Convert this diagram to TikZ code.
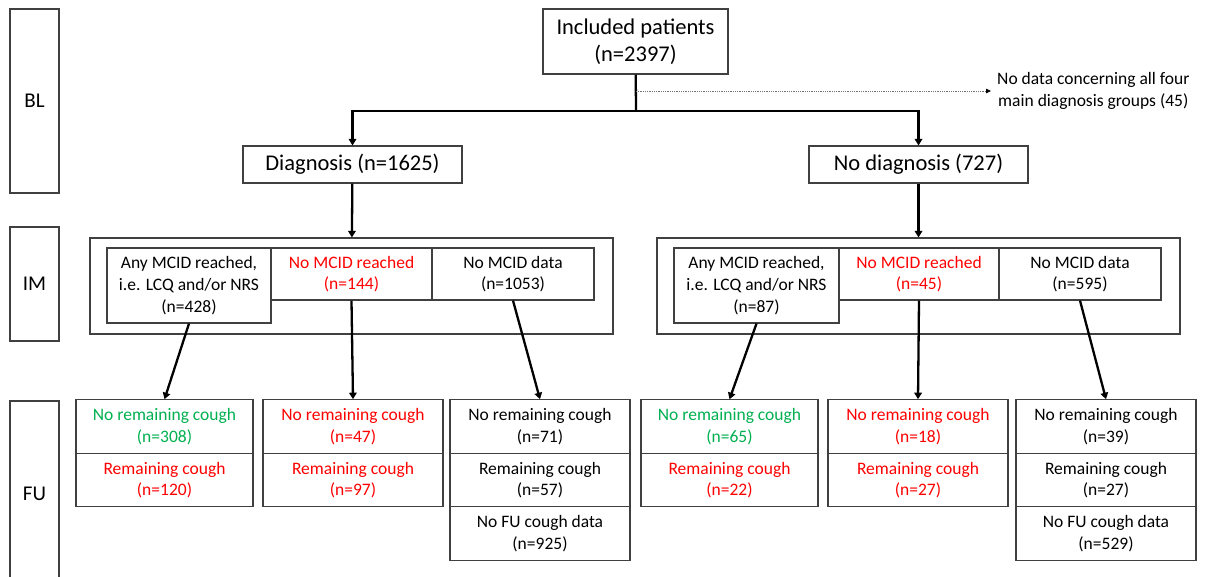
\documentclass[tikz,border=0pt]{standalone}
\usepackage{fontspec}
\setmainfont{Carlito}
\usetikzlibrary{arrows.meta}

\definecolor{groenn}{RGB}{0,176,80}
\definecolor{roed}{RGB}{255,0,0}

\tikzset{
    tekst/.style={align=center, inner sep=0pt, font=\fontsize{17.5}{21.7}\selectfont},
    boks/.style={tekst, draw=black!75, line width=1.1pt},
    storboks/.style={boks, font=\fontsize{22.5}{27}\selectfont},
    fase/.style={storboks, minimum width=49pt, font=\fontsize{21}{25}\selectfont},
    celle/.style={boks, minimum height=53.5pt},
    pil/.style={-{Triangle[length=6.5pt,width=7.5pt]}, line width=2.3pt},
    strek/.style={line width=2.3pt}
}

\begin{document}
\begin{tikzpicture}[x=1pt, y=-1pt]
    \clip (0,0) rectangle (1205,576);
    \path node[fase, minimum height=184pt] (BL) at (34.5,101) {BL}
        node[fase, minimum height=114pt] (IM) at (34.5,284) {IM}
        node[fase, minimum height=185pt] (FU) at (34.5,493.5) {FU}
        node[storboks, minimum width=185pt, minimum height=65pt] (inkl) at (635.5,41.5) {Included patients\\(n=2397)}
        node[tekst, anchor=west] (mangler) at (997,91) {No data concerning all four\\main diagnosis groups (45)}
        node[storboks, minimum width=219pt, minimum height=37pt] (diag) at (352.5,164.5) {Diagnosis (n=1625)}
        node[storboks, minimum width=219pt, minimum height=37pt] (ikkediag) at (918.5,164.5) {No diagnosis (727)}
        % IM, diagnose
        node[boks, minimum width=523pt, minimum height=96pt] (Vramme) at (351.5,286) {}
        node[boks, minimum width=164pt, minimum height=75pt] (Va) at (189,285.5) {Any MCID reached,\\i.e. LCQ and/or NRS\\(n=428)}
        node[boks, minimum width=161pt, minimum height=52pt, text=roed] (Vb) at (351.5,274) {No MCID reached\\(n=144)}
        node[boks, minimum width=162pt, minimum height=52pt] (Vc) at (513,274) {No MCID data\\(n=1053)}
        % IM, ingen diagnose
        node[boks, minimum width=523pt, minimum height=96pt] (Hramme) at (918.5,286) {}
        node[boks, minimum width=165pt, minimum height=75pt] (Ha) at (756.5,285.5) {Any MCID reached,\\i.e. LCQ and/or NRS\\(n=87)}
        node[boks, minimum width=160pt, minimum height=52pt, text=roed] (Hb) at (919,274) {No MCID reached\\(n=45)}
        node[boks, minimum width=162pt, minimum height=52pt] (Hc) at (1080,274) {No MCID data\\(n=595)}
        % FU, diagnose
        node[celle, minimum width=177pt, text=groenn] (Va1) at (164.5,426.5) {No remaining cough\\(n=308)}
        node[celle, minimum width=177pt, text=roed] (Va2) at (164.5,480) {Remaining cough\\(n=120)}
        node[celle, minimum width=180pt, text=roed] (Vb1) at (353,426.5) {No remaining cough\\(n=47)}
        node[celle, minimum width=180pt, text=roed] (Vb2) at (353,480) {Remaining cough\\(n=97)}
        node[celle, minimum width=180pt] (Vc1) at (540,426.5) {No remaining cough\\(n=71)}
        node[celle, minimum width=180pt] (Vc2) at (540,480) {Remaining cough\\(n=57)}
        node[celle, minimum width=180pt] (Vc3) at (540,533.5) {No FU cough data\\(n=925)}
        % FU, ingen diagnose
        node[celle, minimum width=177pt, text=groenn] (Ha1) at (729.5,426.5) {No remaining cough\\(n=65)}
        node[celle, minimum width=177pt, text=roed] (Ha2) at (729.5,480) {Remaining cough\\(n=22)}
        node[celle, minimum width=180pt, text=roed] (Hb1) at (918,426.5) {No remaining cough\\(n=18)}
        node[celle, minimum width=180pt, text=roed] (Hb2) at (918,480) {Remaining cough\\(n=27)}
        node[celle, minimum width=180pt] (Hc1) at (1106,426.5) {No remaining cough\\(n=39)}
        node[celle, minimum width=180pt] (Hc2) at (1106,480) {Remaining cough\\(n=27)}
        node[celle, minimum width=180pt] (Hc3) at (1106,533.5) {No FU cough data\\(n=529)};
    \coordinate (gren) at (636,111);
    \coordinate (prikk) at (636,91);
        \draw[strek] (inkl) -- (gren);
        \draw[pil] (gren) -| (diag);
        \draw[pil] (gren) -| (ikkediag);
        \draw[densely dotted, black!55, line width=0.8pt, -{Triangle[length=5pt,width=4.5pt,black]}] (prikk) -- ([xshift=-6pt]mangler.west);
        \draw[pil] (diag) -- (Vramme);
        \draw[pil] (ikkediag) -- (Hramme);
        \draw[pil] (Va.south) -- (Va1.north);
        \draw[pil] (Vb.south) -- (Vb1.north);
        \draw[pil] (Vc.south) -- (Vc1.north);
        \draw[pil] (Ha.south) -- (Ha1.north);
        \draw[pil] (Hb.south) -- (Hb1.north);
        \draw[pil] (Hc.south) -- (Hc1.north);
\end{tikzpicture}
\end{document}
